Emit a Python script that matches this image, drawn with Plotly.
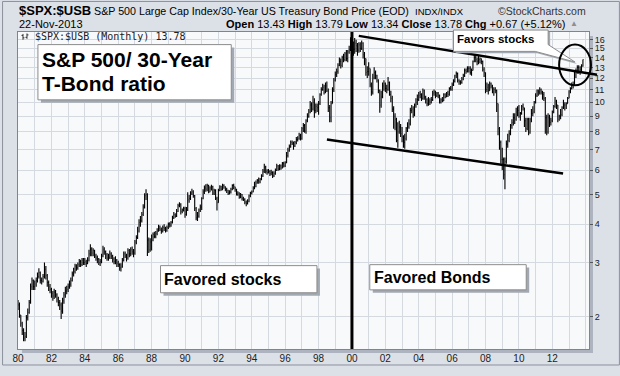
import math
import pandas as pd
import plotly.graph_objects as go

# ---------------- data (monthly bars, Jan 1980 .. Nov 2013) ----------------
first_month = "1980-01-01"
first_open = 2.20

close_vals = [
    2.18, 2.02, 1.90, 1.80, 1.70, 1.72, 1.98, 2.06, 2.22, 2.50, 2.62, 2.50,   # 1980
    2.55, 2.62, 2.70, 2.78, 2.62, 2.60, 2.70, 2.85, 2.72, 2.58, 2.50, 2.45,   # 1981
    2.38, 2.33, 2.40, 2.35, 2.28, 2.22, 2.18, 2.08, 2.25, 2.35, 2.42, 2.45,   # 1982
    2.50, 2.55, 2.62, 2.75, 2.80, 2.92, 2.88, 2.95, 3.02, 2.95, 3.05, 3.00,   # 1983
    3.02, 2.98, 3.05, 3.20, 3.32, 3.22, 3.28, 3.15, 3.10, 3.08, 3.00, 3.02,   # 1984
    3.15, 3.30, 3.25, 3.18, 3.10, 3.12, 3.20, 3.15, 3.08, 3.02, 3.05, 2.98,   # 1985
    2.95, 2.88, 2.90, 3.05, 3.20, 3.15, 3.10, 3.28, 3.20, 3.30, 3.25, 3.22,   # 1986
    3.50, 3.62, 3.80, 4.05, 4.10, 4.30, 4.55, 4.95, 5.00, 3.55, 3.30, 3.50,   # 1987
    3.55, 3.70, 3.65, 3.72, 3.80, 3.88, 3.85, 3.80, 3.90, 3.88, 3.82, 3.90,   # 1988
    4.00, 3.95, 4.05, 4.20, 4.30, 4.25, 4.40, 4.60, 4.65, 4.40, 4.45, 4.50,   # 1989
    4.30, 4.45, 4.80, 4.85, 5.05, 5.10, 4.95, 4.50, 4.20, 4.25, 4.45, 4.55,   # 1990
    4.85, 5.10, 5.25, 5.20, 5.35, 5.10, 5.25, 5.30, 5.05, 5.15, 4.85, 4.70,   # 1991
    5.15, 5.30, 5.20, 5.35, 5.30, 5.20, 5.15, 5.05, 5.10, 5.20, 5.35, 5.30,   # 1992
    5.20, 5.00, 5.05, 4.90, 5.00, 4.85, 4.82, 4.72, 4.68, 4.75, 4.95, 5.05,   # 1993
    5.10, 5.25, 5.30, 5.45, 5.55, 5.50, 5.60, 5.75, 5.95, 6.15, 5.95, 5.90,   # 1994
    5.95, 5.85, 5.90, 5.75, 5.85, 6.00, 6.20, 6.05, 6.20, 6.10, 6.30, 6.20,   # 1995
    6.35, 6.70, 6.95, 7.15, 7.40, 7.35, 7.20, 7.40, 7.55, 7.60, 7.80, 7.60,   # 1996
    8.20, 8.40, 8.05, 8.70, 9.00, 9.30, 9.80, 9.50, 10.0, 9.40, 9.70, 9.60,   # 1997
    9.90, 10.6, 11.0, 11.2, 10.8, 11.3, 10.9, 9.60, 8.90, 9.90, 11.0, 11.8,   # 1998
    12.3, 12.6, 13.2, 13.6, 13.2, 14.0, 13.8, 14.4, 13.9, 14.6, 14.9, 15.5,   # 1999
    15.2, 14.9, 15.6, 15.3, 14.8, 15.4, 15.0, 15.6, 14.3, 13.9, 12.5, 12.6,   # 2000
    12.9, 11.4, 10.8, 12.0, 12.5, 12.2, 11.8, 10.9, 9.80, 10.4, 11.3, 11.5,   # 2001
    11.1, 11.0, 11.6, 10.6, 10.3, 9.50, 9.00, 8.80, 7.50, 8.00, 8.30, 7.90,   # 2002
    7.70, 7.40, 7.60, 8.20, 8.30, 8.50, 9.40, 9.50, 9.10, 9.80, 10.0, 10.2,   # 2003
    10.5, 10.6, 10.3, 10.9, 10.4, 10.2, 9.90, 10.1, 10.0, 10.2, 10.7, 10.8,   # 2004
    10.5, 10.7, 10.5, 10.0, 10.2, 10.1, 10.6, 10.4, 10.7, 10.6, 11.1, 11.0,   # 2005
    11.4, 11.7, 12.2, 12.4, 11.8, 11.7, 11.6, 11.9, 12.2, 12.7, 12.6, 12.9,   # 2006
    12.9, 12.5, 12.7, 13.6, 14.0, 13.8, 13.6, 13.8, 13.9, 13.6, 12.8, 12.5,   # 2007
    11.0, 11.2, 10.9, 11.5, 11.3, 10.8, 11.0, 10.9, 9.90, 8.20, 7.40, 6.50,   # 2008
    6.50, 5.80, 6.40, 7.30, 7.50, 7.90, 8.40, 8.60, 8.90, 8.80, 9.30, 9.40,   # 2009
    9.00, 9.20, 9.70, 9.60, 8.70, 8.20, 8.80, 7.95, 8.80, 9.20, 9.30, 10.0,   # 2010
    10.5, 10.9, 10.8, 11.0, 10.8, 10.6, 10.3, 8.90, 8.00, 8.90, 8.60, 8.70,   # 2011
    9.30, 9.70, 10.1, 9.80, 8.80, 9.00, 9.10, 9.60, 9.80, 9.80, 9.90, 10.3,   # 2012
    10.9, 11.1, 11.4, 11.4, 12.6, 12.5, 13.0, 12.6, 12.8, 13.11, 13.78,       # 2013
]

high_vals = [
    2.26, 2.22, 2.02, 1.92, 1.83, 1.78, 2.02, 2.12, 2.26, 2.56, 2.68, 2.64,
    2.62, 2.68, 2.78, 2.87, 2.80, 2.68, 2.75, 3.00, 2.92, 2.75, 2.62, 2.55,
    2.48, 2.42, 2.46, 2.44, 2.38, 2.32, 2.26, 2.22, 2.30, 2.40, 2.50, 2.52,
    2.56, 2.62, 2.68, 2.80, 2.88, 2.97, 2.96, 3.00, 3.08, 3.06, 3.10, 3.10,
    3.10, 3.06, 3.12, 3.30, 3.44, 3.36, 3.34, 3.30, 3.20, 3.16, 3.10, 3.08,
    3.20, 3.40, 3.36, 3.28, 3.22, 3.20, 3.28, 3.24, 3.18, 3.12, 3.14, 3.08,
    3.04, 2.98, 2.98, 3.10, 3.26, 3.26, 3.20, 3.34, 3.32, 3.36, 3.38, 3.32,
    3.55, 3.68, 3.92, 4.15, 4.25, 4.38, 4.65, 5.05, 5.20, 5.05, 3.62, 3.60,
    3.70, 3.76, 3.78, 3.80, 3.88, 3.98, 3.96, 3.90, 3.96, 4.00, 3.92, 3.96,
    4.05, 4.06, 4.10, 4.26, 4.38, 4.34, 4.48, 4.66, 4.72, 4.68, 4.50, 4.56,
    4.56, 4.55, 5.08, 4.98, 5.12, 5.22, 5.16, 4.98, 4.55, 4.38, 4.50, 4.64,
    4.90, 5.20, 5.35, 5.40, 5.42, 5.38, 5.32, 5.38, 5.34, 5.22, 5.20, 4.92,
    5.22, 5.36, 5.34, 5.42, 5.40, 5.32, 5.26, 5.18, 5.16, 5.26, 5.40, 5.42,
    5.30, 5.22, 5.12, 5.08, 5.06, 5.02, 4.92, 4.86, 4.78, 4.82, 5.00, 5.10,
    5.15, 5.32, 5.50, 5.55, 5.62, 5.68, 5.66, 5.82, 6.05, 6.30, 6.20, 6.04,
    6.05, 6.00, 6.02, 5.95, 5.95, 6.08, 6.30, 6.24, 6.28, 6.26, 6.38, 6.40,
    6.42, 6.88, 7.10, 7.28, 7.50, 7.50, 7.45, 7.48, 7.70, 7.75, 7.95, 7.90,
    8.30, 8.55, 8.50, 8.80, 9.20, 9.50, 10.1, 10.0, 10.5, 10.3, 9.90, 9.90,
    10.1, 10.7, 11.2, 11.5, 11.4, 11.6, 11.7, 11.1, 9.80, 10.1, 11.2, 12.0,
    12.6, 12.9, 13.4, 14.0, 13.9, 14.2, 14.4, 14.6, 14.8, 14.8, 15.3, 16.3,
    16.4, 15.8, 16.2, 16.0, 15.6, 15.7, 15.7, 15.9, 15.7, 14.6, 13.9, 13.1,
    13.5, 12.9, 11.6, 12.4, 13.0, 12.7, 12.3, 11.9, 11.0, 10.9, 11.6, 11.8,
    11.6, 11.4, 12.1, 11.7, 10.9, 10.5, 9.70, 9.20, 8.90, 8.60, 8.70, 8.50,
    8.30, 7.80, 7.90, 8.30, 8.60, 8.80, 9.60, 9.80, 9.70, 9.90, 10.3, 10.6,
    10.8, 10.9, 10.7, 11.1, 11.0, 10.5, 10.3, 10.4, 10.3, 10.4, 10.9, 11.0,
    10.9, 10.8, 10.8, 10.6, 10.3, 10.4, 10.7, 10.7, 10.8, 10.9, 11.2, 11.3,
    11.6, 11.9, 12.3, 12.6, 12.5, 11.9, 11.8, 12.1, 12.4, 12.9, 12.9, 13.1,
    13.1, 13.1, 12.9, 13.7, 14.3, 14.3, 14.0, 14.2, 14.0, 13.9, 13.7, 13.0,
    12.5, 11.6, 11.5, 11.7, 11.6, 11.4, 11.2, 11.2, 11.0, 9.90, 8.30, 7.50,
    7.10, 6.60, 6.60, 7.50, 7.90, 8.10, 8.50, 8.80, 9.20, 9.20, 9.60, 9.70,
    9.80, 9.30, 9.80, 9.90, 9.60, 8.90, 8.90, 8.90, 8.90, 9.50, 9.70, 10.1,
    10.7, 11.0, 11.0, 11.2, 11.1, 10.9, 10.8, 10.4, 9.10, 9.20, 9.10, 8.90,
    9.40, 9.80, 10.4, 10.2, 9.80, 9.10, 9.50, 9.70, 10.2, 10.0, 10.0, 10.4,
    10.95, 11.2, 11.6, 11.7, 12.7, 12.9, 13.2, 13.2, 13.1, 13.3, 13.79,
]

low_vals = [
    2.10, 1.98, 1.85, 1.74, 1.66, 1.66, 1.70, 1.94, 2.04, 2.20, 2.44, 2.44,
    2.44, 2.50, 2.58, 2.66, 2.56, 2.54, 2.58, 2.66, 2.64, 2.50, 2.42, 2.38,
    2.30, 2.25, 2.28, 2.30, 2.22, 2.16, 2.10, 1.96, 2.04, 2.20, 2.30, 2.36,
    2.40, 2.46, 2.50, 2.60, 2.70, 2.76, 2.82, 2.84, 2.90, 2.90, 2.92, 2.94,
    2.94, 2.90, 2.96, 3.02, 3.14, 3.14, 3.14, 3.10, 3.04, 2.98, 2.94, 2.92,
    2.98, 3.12, 3.18, 3.08, 3.04, 3.04, 3.08, 3.08, 3.00, 2.96, 2.96, 2.90,
    2.90, 2.82, 2.80, 2.88, 3.02, 3.10, 3.02, 3.06, 3.12, 3.14, 3.18, 3.12,
    3.18, 3.44, 3.58, 3.76, 3.92, 4.05, 4.25, 4.50, 4.80, 3.15, 3.22, 3.25,
    3.28, 3.52, 3.60, 3.60, 3.68, 3.78, 3.80, 3.72, 3.76, 3.80, 3.76, 3.78,
    3.86, 3.90, 3.92, 4.02, 4.16, 4.20, 4.22, 4.38, 4.54, 4.30, 4.34, 4.40,
    4.20, 4.26, 4.42, 4.70, 4.80, 4.98, 4.88, 4.42, 4.12, 4.10, 4.20, 4.38,
    4.45, 4.82, 5.02, 5.10, 5.12, 5.05, 5.08, 5.15, 4.98, 4.98, 4.80, 4.43,
    4.70, 5.12, 5.14, 5.16, 5.22, 5.12, 5.06, 4.98, 5.00, 5.04, 5.16, 5.20,
    5.10, 4.96, 4.95, 4.84, 4.86, 4.78, 4.76, 4.65, 4.58, 4.64, 4.72, 4.90,
    5.00, 5.08, 5.20, 5.28, 5.42, 5.42, 5.44, 5.56, 5.70, 5.88, 5.85, 5.80,
    5.85, 5.75, 5.78, 5.66, 5.70, 5.80, 5.96, 5.98, 6.00, 6.02, 6.08, 6.12,
    6.15, 6.32, 6.60, 6.90, 7.10, 7.25, 7.00, 7.15, 7.30, 7.45, 7.55, 7.50,
    7.55, 8.00, 7.95, 7.90, 8.60, 8.90, 9.20, 9.30, 9.40, 8.90, 9.20, 9.30,
    9.10, 9.80, 10.5, 10.9, 10.6, 10.7, 10.8, 9.30, 8.60, 8.60, 9.90, 10.8,
    11.7, 12.1, 12.4, 13.1, 12.9, 13.0, 13.5, 13.6, 13.6, 13.5, 14.4, 14.7,
    14.3, 14.2, 14.4, 14.6, 14.2, 14.5, 14.6, 14.8, 13.9, 13.2, 12.2, 12.0,
    12.2, 11.2, 10.5, 10.6, 11.9, 11.9, 11.6, 10.7, 9.25, 9.60, 10.3, 10.9,
    10.8, 10.7, 10.9, 10.5, 10.0, 9.30, 8.20, 8.10, 7.40, 7.10, 7.90, 7.70,
    7.40, 7.10, 7.05, 7.50, 8.00, 8.20, 8.40, 9.20, 8.90, 9.00, 9.60, 9.80,
    10.1, 10.3, 10.1, 10.2, 10.2, 9.90, 9.70, 9.75, 9.80, 9.90, 10.1, 10.5,
    10.3, 10.4, 10.3, 9.90, 9.90, 10.0, 10.1, 10.3, 10.4, 10.4, 10.5, 10.9,
    10.9, 11.3, 11.6, 12.0, 11.6, 11.4, 11.4, 11.5, 11.8, 12.1, 12.4, 12.5,
    12.5, 12.3, 12.2, 12.7, 13.5, 13.5, 13.2, 13.3, 13.4, 13.3, 12.6, 12.1,
    10.7, 10.8, 10.6, 10.9, 11.1, 10.7, 10.5, 10.7, 9.30, 7.80, 7.00, 6.30,
    6.00, 5.60, 5.20, 6.30, 7.10, 7.40, 7.80, 8.20, 8.40, 8.50, 8.70, 9.00,
    8.90, 8.70, 9.10, 9.40, 8.30, 8.00, 8.10, 7.80, 7.90, 8.60, 9.00, 9.20,
    9.90, 10.4, 10.5, 10.6, 10.6, 10.2, 10.1, 7.90, 7.80, 7.90, 8.30, 8.40,
    8.60, 9.20, 9.60, 9.50, 8.60, 8.70, 8.80, 9.00, 9.50, 9.40, 9.50, 9.90,
    10.3, 10.7, 11.0, 11.1, 11.3, 12.0, 12.4, 12.4, 12.3, 12.5, 13.06,
]

x_tick_years = list(range(1980, 2015))
x_tick_labels = [f"{y % 100:02d}" if (y % 2 == 0 and y <= 2012) else "" for y in x_tick_years]
y_tick_vals = [2, 3, 4, 5, 6, 7, 8, 9, 10, 11, 12, 13, 14, 15, 16]
y_range = [1.565, 16.96]
x_range = ["1979-12-31", "2014-03-14"]
divider_date = "2000-01-01"

# ---------------- layout helpers (pixel -> paper) ----------------
W, H = 620, 376
L, R, T, B = 16, 589, 32, 359

def px(x):
    return (x - L) / (R - L)

def py(y):
    return (B - y) / (B - T)

def path(points_list):
    parts = []
    for pts in points_list:
        for i, (x, y) in enumerate(pts):
            parts.append(("M" if i == 0 else "L") + f"{px(x):.5f},{py(y):.5f}")
    return " ".join(parts)

dates = pd.date_range(first_month, periods=len(close_vals), freq="MS")
open_vals = [first_open] + close_vals[:-1]

fig = go.Figure()
fig.add_trace(go.Ohlc(
    x=dates, open=open_vals, high=high_vals, low=low_vals, close=close_vals,
    increasing=dict(line=dict(color="#000000", width=1.1)),
    decreasing=dict(line=dict(color="#000000", width=1.1)),
    tickwidth=0.5, hoverinfo="skip", showlegend=False,
))

FONT = "Arial, 'Liberation Sans', sans-serif"
GRID = "#d5d9e0"

shapes = []
shapes.append(dict(type="rect", xref="paper", yref="paper", x0=px(20), x1=px(593), y0=py(363), y1=py(36),
                   fillcolor="#adb4bf", line=dict(width=0), layer="below"))
shapes.append(dict(type="rect", xref="paper", yref="paper", x0=0, x1=1, y0=0, y1=1,
                   fillcolor="#f8f9fb", line=dict(width=0), layer="below"))
shapes.append(dict(type="rect", xref="paper", yref="paper", x0=px(0.5), x1=px(619.5), y0=py(375.5), y1=py(0.5),
                   line=dict(color="#8a919c", width=1), fillcolor="rgba(0,0,0,0)", layer="above"))
shapes.append(dict(type="line", xref="x", yref="paper", x0=divider_date, x1=divider_date, y0=0, y1=1,
                   line=dict(color="#000000", width=3)))
shapes.append(dict(type="line", xref="paper", yref="paper", x0=px(358), y0=py(36), x1=px(597), y1=py(76),
                   line=dict(color="#000000", width=2.5)))
shapes.append(dict(type="line", xref="paper", yref="paper", x0=px(326), y0=py(143), x1=px(563), y1=py(178),
                   line=dict(color="#000000", width=2.5)))

def box(x0, y0, x1, y1):
    shapes.append(dict(type="rect", xref="paper", yref="paper", x0=px(x0 + 3), x1=px(x1 + 3), y0=py(y1 + 3), y1=py(y0 + 3),
                       fillcolor="#a3a9b3", line=dict(width=0)))
    shapes.append(dict(type="rect", xref="paper", yref="paper", x0=px(x0), x1=px(x1), y0=py(y1), y1=py(y0),
                       fillcolor="#ffffff", line=dict(color="#8c8c8c", width=1)))

box(36, 45, 230, 102)
box(159, 273, 316, 301)
box(369, 272, 526, 298)
bubble = [(453, 30), (548, 30), (548, 45), (575, 63), (535, 52), (453, 52), (453, 30)]
shapes.append(dict(type="path", xref="paper", yref="paper", path=path([[(x + 2, y + 2) for x, y in bubble]]) + " Z",
                   fillcolor="#a3a9b3", line=dict(width=0)))
shapes.append(dict(type="path", xref="paper", yref="paper", path=path([bubble]) + " Z",
                   fillcolor="#ffffff", line=dict(color="#8c8c8c", width=1)))
shapes.append(dict(type="circle", xref="paper", yref="paper", x0=px(559), x1=px(591), y0=py(87), y1=py(45),
                   line=dict(color="#000000", width=2)))
icon = [[(21, 34), (21, 40)], [(19.5, 35.5), (21, 35.5)], [(21, 38), (22.5, 38)],
        [(25, 33.5), (25, 39)], [(23.5, 37.5), (25, 37.5)], [(25, 35), (26.5, 35)]]
shapes.append(dict(type="path", xref="paper", yref="paper", path=path(icon), line=dict(color="#333333", width=1)))

ann = []
def text(x, y, s, size, anchor="left", color="#000000", family=FONT):
    ann.append(dict(xref="paper", yref="paper", x=px(x), y=py(y), text=s, showarrow=False,
                    xanchor=anchor, yanchor="middle", font=dict(size=size, color=color, family=family)))

text(15, 9.5, "<b>$SPX:$USB</b>", 13)
text(90, 10, "S&P 500 Large Cap Index/30-Year US Treasury Bond Price (EOD)", 10.7)
text(412, 10.5, "INDX/INDX", 9.5)
text(588, 10, "©StockCharts.com", 10.5, anchor="right", color="#333333")
text(15, 24, "22-Nov-2013", 11)
text(567, 24, "<b>Open</b> 13.43 <b>High</b> 13.79 <b>Low</b> 13.34 <b>Close</b> 13.78 <b>Chg</b> +0.67 (+5.12%)", 11, anchor="right")
text(568, 23.5, "▲", 8, color="#8f8f8f")
text(31, 37, "$SPX:$USB (Monthly) 13.78", 10, color="#222222", family="'DejaVu Sans Mono', monospace")
text(38, 60, "<b>S&P 500/ 30-Year</b>", 21)
text(38, 85, "<b>T-Bond ratio</b>", 21)
text(161, 287.5, "<b>Favored stocks</b>", 16)
text(371, 285.3, "<b>Favored Bonds</b>", 16)
text(455, 39.5, "<b>Favors stocks</b>", 11.5)

fig.update_layout(
    width=W, height=H,
    margin=dict(l=L, r=W - R, t=T, b=H - B, pad=0),
    paper_bgcolor="#dce1e8", plot_bgcolor="rgba(0,0,0,0)",
    shapes=shapes, annotations=ann, showlegend=False,
    xaxis=dict(type="date", range=x_range, tickmode="array",
               tickvals=[f"{y}-01-01" for y in x_tick_years], ticktext=x_tick_labels,
               showgrid=True, gridcolor=GRID, gridwidth=1, ticks="", zeroline=False,
               showline=True, mirror=True, linecolor="#7e8590", linewidth=1,
               tickfont=dict(size=10, color="#222222", family=FONT),
               rangeslider=dict(visible=False), fixedrange=True),
    yaxis=dict(type="log", range=[math.log10(y_range[0]), math.log10(y_range[1])], side="right",
               tickmode="array", tickvals=y_tick_vals, ticktext=[str(v) for v in y_tick_vals],
               showgrid=True, gridcolor=GRID, gridwidth=1, ticks="outside", ticklen=3, tickcolor="#555555",
               showline=True, mirror=True, linecolor="#7e8590", linewidth=1, zeroline=False,
               tickfont=dict(size=9, color="#222222", family=FONT), fixedrange=True),
)

fig.write_html("out.html", config={"displayModeBar": False, "staticPlot": True},
               post_script="document.body.style.margin='0';document.body.style.overflow='hidden';")
